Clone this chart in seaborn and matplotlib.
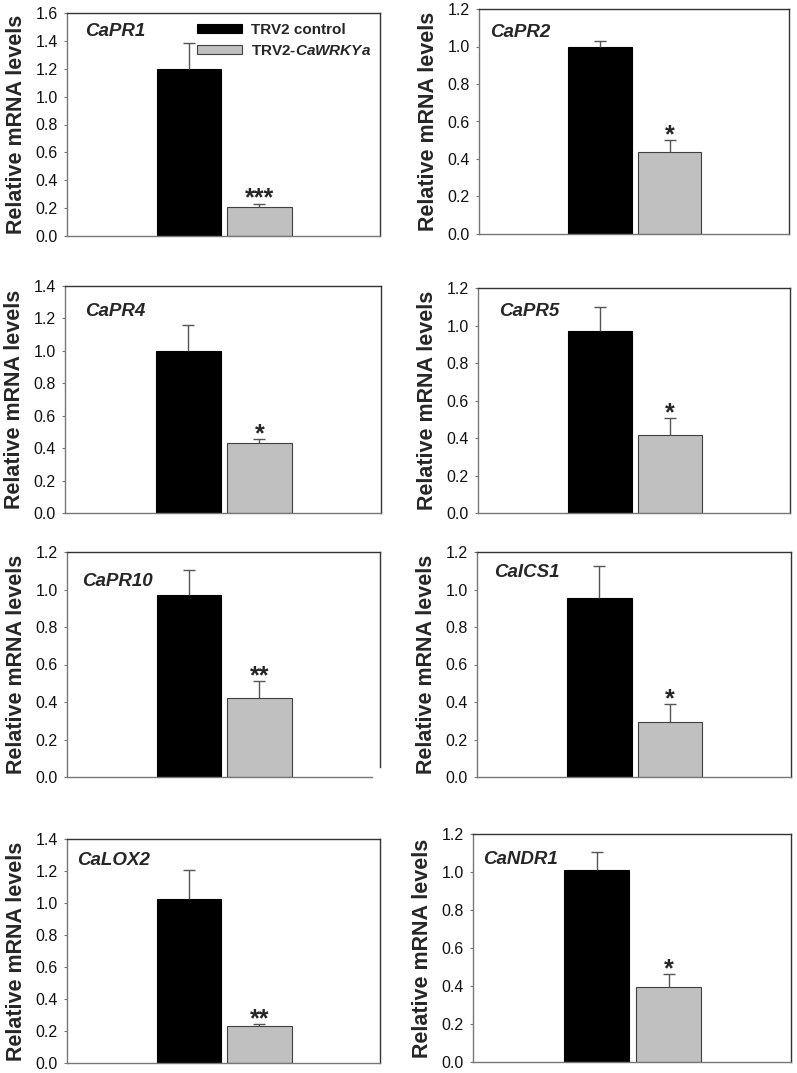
import matplotlib
matplotlib.use("Agg")
import matplotlib.pyplot as plt
import seaborn as sns
from matplotlib.patches import Patch

# values (mean and upper error)
genes = ["CaPR1", "CaPR2", "CaPR4", "CaPR5", "CaPR10", "CaICS1", "CaLOX2", "CaNDR1"]
control_mean = [1.20, 1.00, 1.00, 0.97, 0.97, 0.955, 1.025, 1.01]
control_err = [0.185, 0.03, 0.16, 0.13, 0.135, 0.17, 0.18, 0.095]
silenced_mean = [0.21, 0.435, 0.43, 0.415, 0.42, 0.295, 0.23, 0.395]
silenced_err = [0.022, 0.065, 0.025, 0.09, 0.09, 0.093, 0.014, 0.066]
stars = ["***", "*", "*", "*", "**", "*", "**", "*"]
y_max = [1.6, 1.2, 1.4, 1.2, 1.2, 1.2, 1.4, 1.2]
groups = ["TRV2 control", "TRV2-CaWRKYa"]

sns.set_style("white")
plt.rcParams['font.family'] = ['Liberation Sans', 'DejaVu Sans']
plt.rcParams['mathtext.fontset'] = 'custom'
plt.rcParams['mathtext.rm'] = 'Liberation Sans:bold'
plt.rcParams['mathtext.bf'] = 'Liberation Sans:bold'
plt.rcParams['mathtext.it'] = 'Liberation Sans:italic:bold'
plt.rcParams['mathtext.bfit'] = 'Liberation Sans:italic:bold'

W, H = 797, 1073
fig = plt.figure(figsize=(W / 100, H / 100), dpi=100)

# panel boxes in pixels: left, top, right, bottom
boxes = [(67, 13, 380, 236), (479, 9, 789, 234),
         (65, 286, 381, 513), (478, 288, 790, 513),
         (67, 552, 380, 777), (477, 552, 791, 777),
         (67, 839, 380, 1063), (473, 834, 791, 1062)]
# gene label positions (axes fraction)
label_pos = [(0.058, 0.915), (0.035, 0.895), (0.064, 0.887), (0.067, 0.895),
             (0.048, 0.87), (0.054, 0.907), (0.032, 0.902), (0.031, 0.886)]

colors = ["#000000", "#c0c0c0"]
edges = ["#000000", "#404040"]

for i, g in enumerate(genes):
    l, t, r, b = boxes[i]
    ax = fig.add_axes([l / W, 1 - b / H, (r - l) / W, (b - t) / H])

    sns.barplot(x=groups, y=[control_mean[i], silenced_mean[i]], hue=groups,
                palette=colors, width=0.91, legend=False, ax=ax, linewidth=0.8)
    for p, ec in zip(ax.patches, edges):
        p.set_edgecolor(ec)

    eb = ax.errorbar([0, 1], [control_mean[i], silenced_mean[i]],
                     yerr=[[0, 0], [control_err[i], silenced_err[i]]],
                     fmt='none', ecolor='#555555', elinewidth=1, capsize=4.5, capthick=1)
    eb[1][0].set_visible(False)  # no lower caps

    ax.annotate(stars[i], xy=(1, silenced_mean[i] + silenced_err[i]), xytext=(0, -1.5),
                textcoords='offset points', ha='center', va='baseline',
                fontsize=18, fontweight='bold')

    ax.text(label_pos[i][0], label_pos[i][1], g, transform=ax.transAxes,
            fontsize=13.5, fontweight='bold', fontstyle='italic', va='center', ha='left')

    ax.set_xlim(-1.73, 2.71)
    ax.set_ylim(0, y_max[i])
    ax.set_yticks([k * 0.2 for k in range(int(round(y_max[i] / 0.2)) + 1)])
    ax.yaxis.set_major_formatter(matplotlib.ticker.FormatStrFormatter('%.1f'))
    ax.set_xticks([])
    ax.set_xlabel("")
    ax.set_ylabel("Relative mRNA levels", fontsize=15.5, fontweight='bold', labelpad=6)
    ax.tick_params(axis='y', left=True, length=2.5, width=0.8, color='#777777',
                   pad=4, labelsize=11.5, labelcolor='#111111')

    for s in ['left', 'bottom']:
        ax.spines[s].set_color('#777777')
        ax.spines[s].set_linewidth(1)
    for s in ['top', 'right']:
        ax.spines[s].set_color('#333333')
        ax.spines[s].set_linewidth(1)

    if g == "CaPR10":
        ax.spines['right'].set_bounds(0.053, y_max[i])
        ax.spines['bottom'].set_bounds(-1.73, 2.6)

    if i == 0:
        handles = [Patch(facecolor=colors[0], edgecolor=edges[0], linewidth=0.8),
                   Patch(facecolor=colors[1], edgecolor=edges[1], linewidth=0.8)]
        leg = ax.legend(handles, ["TRV2 control", r"TRV2-$\mathbfit{CaWRKYa}$"],
                        loc='upper left', bbox_to_anchor=(0.415, 0.955), frameon=False,
                        borderpad=0, borderaxespad=0, handlelength=2.95, handleheight=0.55,
                        handletextpad=0.6, labelspacing=0.45,
                        prop={'size': 11, 'weight': 'bold'})

fig.savefig("out.png", dpi=100)
